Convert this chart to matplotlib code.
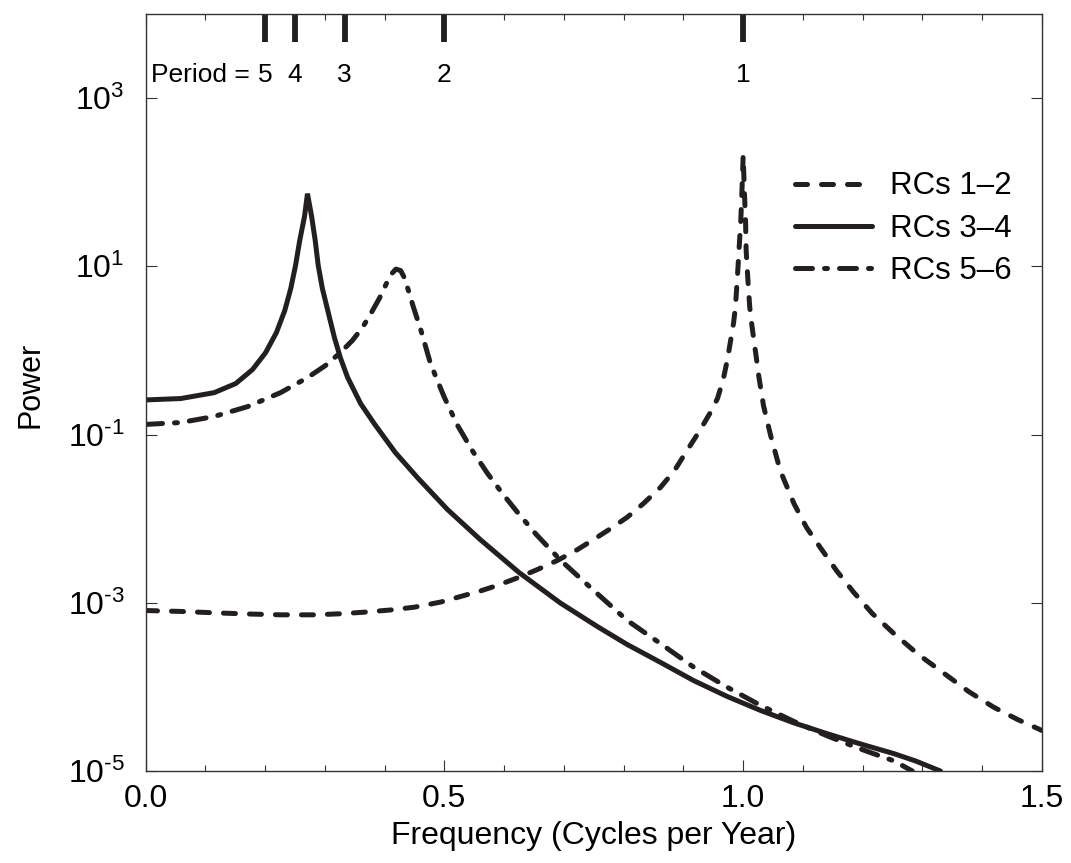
import matplotlib
matplotlib.use("Agg")
import matplotlib.pyplot as plt
from matplotlib.ticker import FixedLocator, MultipleLocator, NullLocator, FuncFormatter
import matplotlib.transforms as mtransforms
import math

plt.rcParams["font.family"] = ["Liberation Sans", "DejaVu Sans"]
plt.rcParams["axes.unicode_minus"] = False
plt.rcParams["mathtext.fontset"] = "custom"
plt.rcParams["mathtext.rm"] = "Liberation Sans"

# Spectral power of reconstructed components (RC pairs)
freq_rc12 = [0.000, 0.059, 0.115, 0.171, 0.226, 0.282, 0.326, 0.366, 0.410, 0.450,
             0.494, 0.533, 0.560, 0.589, 0.625, 0.656, 0.689, 0.723, 0.756, 0.781,
             0.806, 0.833, 0.862, 0.885, 0.906, 0.920, 0.934, 0.945, 0.957, 0.962,
             0.968, 0.974, 0.979, 0.984, 0.987, 0.990, 0.993, 0.996, 0.998, 1.000,
             1.002, 1.004, 1.005, 1.008, 1.011, 1.014, 1.018, 1.022, 1.026, 1.034,
             1.046, 1.062, 1.085, 1.106, 1.129, 1.156, 1.185, 1.216, 1.252, 1.293,
             1.336, 1.377, 1.419, 1.459, 1.500]
power_rc12 = [8.09e-4, 7.89e-4, 7.60e-4, 7.36e-4, 7.19e-4, 7.19e-4, 7.40e-4, 7.73e-4,
              8.21e-4, 8.87e-4, 1.02e-3, 1.22e-3, 1.38e-3, 1.61e-3, 2.01e-3, 2.49e-3,
              3.18e-3, 4.30e-3, 6.03e-3, 7.85e-3, 1.04e-2, 1.51e-2, 2.37e-2, 3.73e-2,
              6.46e-2, 9.21e-2, 0.134, 0.182, 0.268, 0.352, 0.502, 0.800, 1.31, 2.14,
              3.26, 6.76, 15.4, 34.9, 79.4, 207.0, 79.4, 34.9, 15.4, 6.76, 3.26, 2.14,
              1.31, 0.822, 0.502, 0.221, 9.73e-2, 3.73e-2, 1.51e-2, 7.85e-3, 4.54e-3,
              2.42e-3, 1.33e-3, 7.46e-4, 4.32e-4, 2.43e-4, 1.45e-4, 8.83e-5, 5.74e-5,
              4.10e-5, 3.03e-5]

freq_rc34 = [0.000, 0.059, 0.115, 0.151, 0.179, 0.201, 0.219, 0.233, 0.243, 0.251,
             0.258, 0.266, 0.271, 0.278, 0.284, 0.289, 0.296, 0.305, 0.316, 0.326,
             0.338, 0.360, 0.383, 0.418, 0.455, 0.505, 0.560, 0.625, 0.694, 0.756,
             0.806, 0.862, 0.917, 0.973, 1.029, 1.085, 1.141, 1.196, 1.252, 1.288,
             1.330]
power_rc34 = [0.258, 0.268, 0.315, 0.404, 0.592, 0.942, 1.63, 2.98, 5.43, 10.2,
              20.2, 39.0, 73.1, 39.0, 20.2, 10.2, 5.43, 2.98, 1.43, 0.822,
              0.480, 0.233, 0.134, 6.11e-2, 3.08e-2, 1.29e-2, 5.65e-3, 2.29e-3, 9.95e-4,
              5.22e-4, 3.19e-4, 1.95e-4, 1.19e-4, 7.71e-5, 5.25e-5, 3.73e-5, 2.77e-5,
              2.10e-5, 1.61e-5, 1.32e-5, 1.00e-5]

freq_rc56 = [0.000, 0.059, 0.115, 0.171, 0.226, 0.271, 0.301, 0.326, 0.346, 0.363,
             0.378, 0.392, 0.403, 0.412, 0.419, 0.427, 0.433, 0.440, 0.448, 0.461,
             0.477, 0.500, 0.522, 0.547, 0.572, 0.597, 0.622, 0.653, 0.694, 0.750,
             0.806, 0.862, 0.917, 0.973, 1.029, 1.085, 1.141, 1.196, 1.252, 1.283]
power_rc56 = [0.132, 0.139, 0.164, 0.215, 0.315, 0.475, 0.661, 0.942, 1.31, 1.87,
              2.82, 4.25, 6.22, 8.18, 9.27, 8.89, 7.34, 5.14, 3.32, 1.72,
              0.692, 0.277, 0.129, 6.41e-2, 3.47e-2, 2.00e-2, 1.20e-2, 6.58e-3, 3.23e-3,
              1.40e-3, 6.17e-4, 3.26e-4, 1.72e-4, 9.93e-5, 6.03e-5, 3.88e-5, 2.61e-5,
              1.83e-5, 1.32e-5, 1.00e-5]

labels = ["RCs 1\u20132", "RCs 3\u20134", "RCs 5\u20136"]

# Reference periods (years) marked along the top edge
periods = [5, 4, 3, 2, 1]

W, H = 1071, 863
fig = plt.figure(figsize=(W / 100, H / 100), dpi=100)
left, right, top, bottom = 145.5, 1042, 14, 771
ax = fig.add_axes([left / W, (H - bottom) / H, (right - left) / W, (bottom - top) / H])

lw = 3.6
ink = "#231f20"
ax.plot(freq_rc12, power_rc12, color=ink, lw=lw, dashes=(2.4, 2.8),
        dash_capstyle="round", dash_joinstyle="round", label=labels[0])
ax.plot(freq_rc34, power_rc34, color=ink, lw=lw, solid_joinstyle="miter",
        solid_capstyle="round", label=labels[1])
ax.plot(freq_rc56, power_rc56, color=ink, lw=lw, dashes=(3.4, 2.4, 0.6, 2.4),
        dash_capstyle="round", dash_joinstyle="round", label=labels[2])

ax.set_yscale("log")
ax.set_xlim(0, 1.5)
ax.set_ylim(1e-5, 1e4)

ax.xaxis.set_major_locator(FixedLocator([0.0, 0.5, 1.0, 1.5]))
ax.xaxis.set_minor_locator(MultipleLocator(0.1))
ax.xaxis.set_major_formatter(FuncFormatter(lambda v, p: f"{v:.1f}"))
ax.yaxis.set_major_locator(FixedLocator([1e-5, 1e-3, 1e-1, 1e1, 1e3]))
ax.yaxis.set_minor_locator(NullLocator())


def pow10_label(v, pos):
    e = int(round(math.log10(v)))
    return r"$\mathdefault{10^{\text{%d}}}$" % e


ax.yaxis.set_major_formatter(FuncFormatter(pow10_label))

tick_fs = 23
ax.tick_params(which="both", direction="in", top=True, right=True, width=0.8,
               color="#333333", labelsize=tick_fs)
ax.tick_params(which="major", length=8)
ax.tick_params(which="minor", length=4)
ax.tick_params(axis="x", which="major", pad=9)
ax.tick_params(axis="y", which="major", pad=15)
for s in ax.spines.values():
    s.set_linewidth(1.0)
    s.set_color("#333333")

ax.set_xlabel("Frequency (Cycles per Year)", fontsize=23)
ax.set_ylabel("Power", fontsize=22)
ax.xaxis.set_label_coords(0.5, -0.066)
ax.yaxis.set_label_coords(-0.112, 0.51)

# Period markers: short thick bars from the top edge with labels beneath
trans = mtransforms.blended_transform_factory(ax.transData, ax.transAxes)
per_fs = 19
for p in periods:
    ax.plot([1.0 / p, 1.0 / p], [1.0, 0.963], transform=trans, color=ink,
            lw=4.2, solid_capstyle="butt", clip_on=False)
    ax.text(1.0 / p, 0.919, str(p), transform=trans, ha="center", va="center",
            fontsize=per_fs, color="black")
ax.annotate("Period =", xy=(1.0 / periods[0], 0.919), xycoords=trans,
            xytext=(-11, 0), textcoords="offset points", ha="right", va="center",
            fontsize=per_fs, color="black")

leg = ax.legend(loc="upper right", bbox_to_anchor=(0.966, 0.792), frameon=False,
                fontsize=22.5, handlelength=2.46, handletextpad=0.58,
                labelspacing=0.39, borderaxespad=0, borderpad=0)

fig.savefig("out.png", dpi=100)
